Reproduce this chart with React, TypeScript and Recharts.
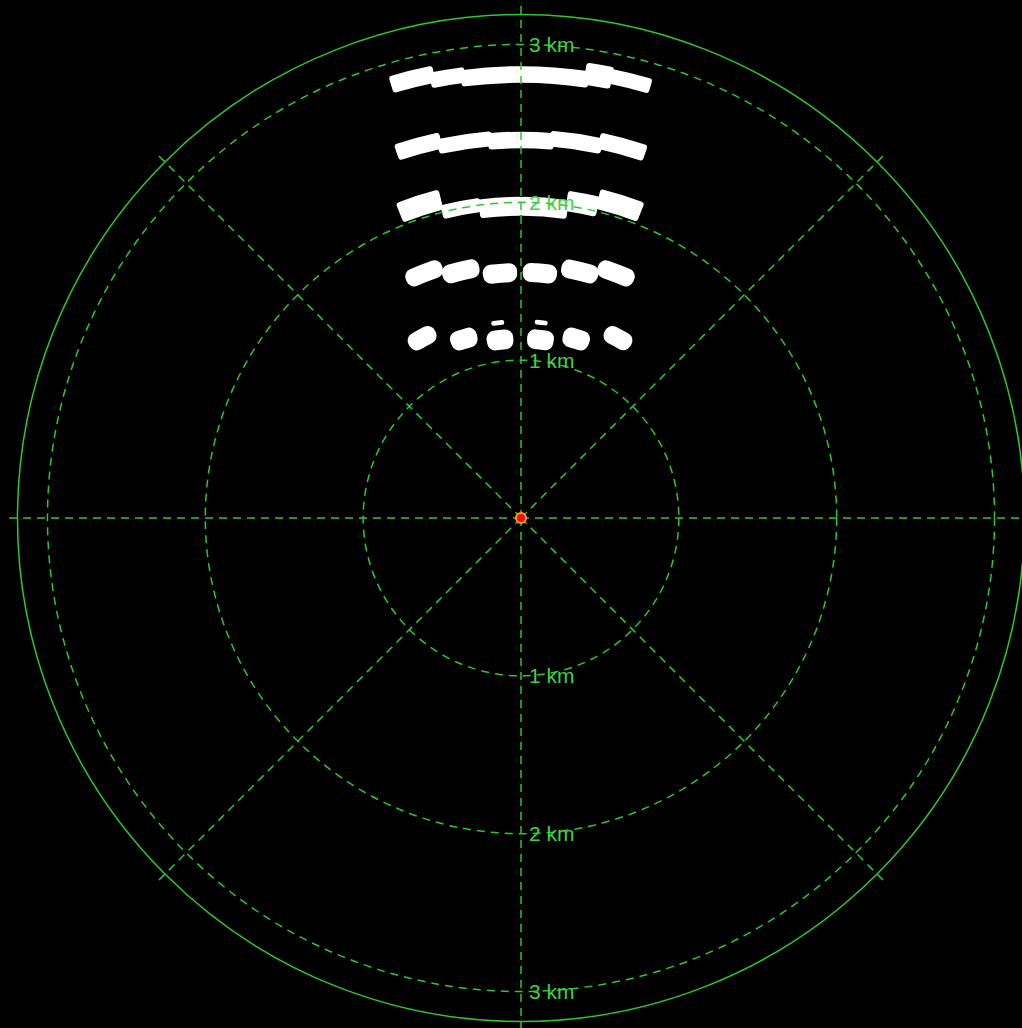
import React from 'react';
import { RadarChart, Radar, PolarGrid, PolarAngleAxis, PolarRadiusAxis, Sector } from 'recharts';

const W = 1022;
const H = 1028;
const CX = 521;
const CY = 518;
const OUTER_R = 513;
const MAX_RANGE = 3.25; // km at the end of the radial lines
const RIM_RANGE = 3.19; // km, solid display rim
const rangeTicks = [1, 2, 3];
const gridBearings = [-135, -90, -45, 0, 45, 90, 135, 180];

const GREEN = '#2cc82c';
const TEXT_GREEN = '#3fd23f';

// echoes: row, bearing (deg), range (km), angular span (deg), radial depth (km)
const echoRow = [1, 1, 1, 1, 1, 1, 2, 2, 2, 2, 2, 3, 3, 3, 3, 3, 3, 4, 4, 4, 4, 4, 4, 5, 5, 5, 5, 5, 5, 5, 5];
const echoBearing = [
  -13.9, -9.45, -3.75, 4.25, 9.95, 13.9,
  -15.4, -8.5, 0, 8.35, 15.25,
  -17.9, -10.9, -3.75, 4.2, 11.05, 17.5,
  -21.6, -13.7, -4.9, 4.4, 13.4, 21.2,
  -28.8, -17.7, -6.7, 6.2, 17.1, 28.3, -6.8, 5.9,
];
const echoRange = [
  2.865, 2.83, 2.81, 2.81, 2.845, 2.855,
  2.445, 2.41, 2.395, 2.41, 2.44,
  2.08, 2.0, 1.975, 1.975, 2.03, 2.08,
  1.668, 1.61, 1.556, 1.556, 1.607, 1.664,
  1.3, 1.19, 1.136, 1.136, 1.187, 1.295, 1.245, 1.245,
];
const echoSpan = [
  5.6, 4.5, 8.1, 9.1, 3.5, 5.6,
  6.8, 8.2, 10, 7.9, 7.1,
  7.6, 7.2, 7.9, 8.8, 5.7, 7.8,
  8.4, 8.5, 8.0, 8.0, 8.5, 8.4,
  8.3, 8.3, 8.5, 8.5, 8.3, 8.3, 3.8, 3.8,
];
const echoDepth = [
  0.11, 0.1, 0.105, 0.105, 0.14, 0.095,
  0.105, 0.095, 0.105, 0.1, 0.105,
  0.13, 0.09, 0.12, 0.12, 0.13, 0.13,
  0.115, 0.12, 0.12, 0.12, 0.12, 0.115,
  0.115, 0.125, 0.125, 0.125, 0.125, 0.115, 0.03, 0.03,
];

const ownShip = { bearing: 0, range: 0 };

const data = [
  ...echoBearing.map((b, i) => ({
    kind: 'echo',
    bearing: b,
    range: echoRange[i],
    span: echoSpan[i],
    depth: echoDepth[i],
    row: echoRow[i],
  })),
  { kind: 'own', bearing: ownShip.bearing, range: ownShip.range, span: 0, depth: 0, row: 0 },
];

const getEntry = (props: any) => {
  const pt = props.payload || {};
  return pt.payload || pt;
};

const EchoDot = (props: any) => {
  const e = getEntry(props);
  const { cx, cy, index } = props;
  if (e.kind !== 'echo' || !Number.isFinite(cx) || !Number.isFinite(cy)) return <g key={`e-${index}`} />;
  const pxPerKm = OUTER_R / MAX_RANGE;
  const r = Math.hypot(cx - CX, cy - CY);
  const ang = (Math.atan2(CY - cy, cx - CX) * 180) / Math.PI;
  const half = e.span / 2;
  const d = (e.depth * pxPerKm) / 2;
  const corner = Math.min(e.row >= 4 ? 8 : 3, d * 0.9);
  return (
    <Sector
      key={`e-${index}`}
      cx={CX}
      cy={CY}
      innerRadius={r - d}
      outerRadius={r + d}
      startAngle={ang - half}
      endAngle={ang + half}
      cornerRadius={corner}
      fill="#ffffff"
      stroke="none"
    />
  );
};

const OwnDot = (props: any) => {
  const e = getEntry(props);
  const { cx, cy, index } = props;
  if (e.kind !== 'own' || !Number.isFinite(cx)) return <g key={`o-${index}`} />;
  return <circle key={`o-${index}`} cx={cx} cy={cy} r={5} fill="#e8121a" stroke="#ff9a10" strokeWidth={2} />;
};

const labelStyle = {
  fill: TEXT_GREEN,
  fontFamily: "'Liberation Sans', Arial, sans-serif",
  fontSize: 21,
};

const RangeLabel = (props: any) => {
  const { x, y, payload, index } = props;
  const text = `${payload.value} km`;
  return (
    <g key={`lbl-${index}`}>
      <text x={x + 8} y={y} dominantBaseline="central" textAnchor="start" {...labelStyle}>
        {text}
      </text>
      <text x={x + 8} y={2 * CY - y} dominantBaseline="central" textAnchor="start" {...labelStyle}>
        {text}
      </text>
    </g>
  );
};

const chartProps = {
  width: W,
  height: H,
  data,
  cx: CX,
  cy: CY,
  innerRadius: 0,
  outerRadius: OUTER_R,
  startAngle: 270,
  endAngle: -90,
  margin: { top: 0, right: 0, bottom: 0, left: 0 },
};

export default function App() {
  const layer: React.CSSProperties = { position: 'absolute', left: 0, top: 0 };
  return (
    <div style={{ position: 'fixed', left: 0, top: 0, width: W, height: H, background: '#000', overflow: 'hidden' }}>
      <div style={layer}>
        <RadarChart {...chartProps}>
          <PolarAngleAxis
            dataKey="bearing"
            type="number"
            domain={[-180, 180]}
            ticks={gridBearings}
            tick={false}
            tickLine={false}
            axisLine={false}
          />
          <PolarRadiusAxis type="number" domain={[0, MAX_RANGE]} ticks={rangeTicks} angle={90} axisLine={false} tick={false} tickLine={false} />
          <Radar
            dataKey="range"
            stroke="none"
            fill="none"
            fillOpacity={0}
            dot={EchoDot}
            activeDot={false}
            isAnimationActive={false}
            legendType="none"
          />
        </RadarChart>
      </div>
      <div style={layer}>
        <RadarChart {...chartProps}>
          <PolarAngleAxis
            dataKey="bearing"
            type="number"
            domain={[-180, 180]}
            ticks={gridBearings}
            tick={false}
            tickLine={false}
            axisLine={false}
          />
          <PolarRadiusAxis
            type="number"
            domain={[0, MAX_RANGE]}
            ticks={rangeTicks}
            angle={90}
            axisLine={false}
            tickLine={false}
            tick={RangeLabel}
          />
          <PolarGrid gridType="circle" stroke={GREEN} strokeWidth={1.5} strokeDasharray="8 6" />
          <PolarGrid
            gridType="circle"
            radialLines={false}
            polarRadius={[(RIM_RANGE * OUTER_R) / MAX_RANGE]}
            stroke={GREEN}
            strokeWidth={1.5}
          />
          <Radar
            dataKey="range"
            stroke="none"
            fill="none"
            fillOpacity={0}
            dot={OwnDot}
            activeDot={false}
            isAnimationActive={false}
            legendType="none"
          />
        </RadarChart>
      </div>
    </div>
  );
}
